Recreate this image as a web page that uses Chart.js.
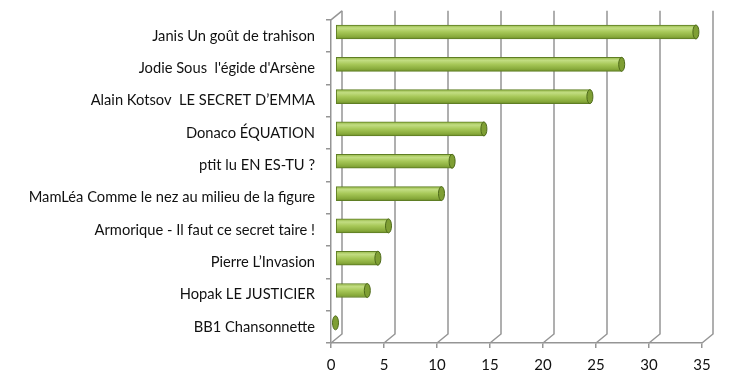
<!DOCTYPE html>
<html>
<head>
<meta charset="utf-8">
<script src="https://cdn.jsdelivr.net/npm/chart.js@4/dist/chart.umd.min.js"></script>
<style>
html,body{margin:0;padding:0;background:#fff;}
canvas{display:block;}
</style>
</head>
<body>
<canvas id="c" width="730" height="380"></canvas>
<script>
const categories = [
  "Janis Un goût de trahison",
  "Jodie Sous  l'égide d'Arsène",
  "Alain Kotsov  LE SECRET D’EMMA",
  "Donaco ÉQUATION",
  "ptit lu EN ES-TU ?",
  "MamLéa Comme le nez au milieu de la figure",
  "Armorique - Il faut ce secret taire !",
  "Pierre L’Invasion",
  "Hopak LE JUSTICIER",
  "BB1 Chansonnette"
];
const votes = [34, 27, 24, 14, 11, 10, 5, 4, 3, 0];
const xTicks = [0, 5, 10, 15, 20, 25, 30, 35];

const DEPTH_X = 11, DEPTH_Y = -9;   // back wall offset
const BAR_X = 4.5, BAR_Y = -4;      // bars sit at mid depth
const BAR_T = 14;
const GRID = '#959595';

Chart.defaults.font.family = 'Lato, "Open Sans", sans-serif';
Chart.defaults.font.size = 14;
Chart.defaults.color = '#111111';

function barFill(ctx) {
  const chart = ctx.chart;
  const ys = chart.scales && chart.scales.y;
  if (!ys || ctx.dataIndex === undefined) return '#a5c655';
  const yc = ys.getPixelForValue(ctx.dataIndex);
  if (!isFinite(yc)) return '#a5c655';
  const g = chart.ctx.createLinearGradient(0, yc - BAR_T / 2, 0, yc + BAR_T / 2);
  g.addColorStop(0, '#94b746');
  g.addColorStop(0.22, '#c2dd82');
  g.addColorStop(0.5, '#a7c858');
  g.addColorStop(0.85, '#87a93a');
  g.addColorStop(1, '#6c8b29');
  return g;
}

const wallPlugin = {
  id: 'wall3d',
  beforeDatasetsDraw(chart) {
    const c = chart.ctx, xs = chart.scales.x, a = chart.chartArea;
    c.save();
    c.strokeStyle = GRID;
    c.lineWidth = 1.5;
    xTicks.forEach(v => {
      const xf = xs.getPixelForValue(v);
      c.beginPath();
      c.moveTo(xf, a.bottom);
      c.lineTo(xf + DEPTH_X, a.bottom + DEPTH_Y);
      c.lineTo(xf + DEPTH_X, a.top + DEPTH_Y);
      c.stroke();
    });
    const x0 = xs.getPixelForValue(0);
    c.beginPath();
    c.moveTo(x0, a.top);
    c.lineTo(x0 + DEPTH_X, a.top + DEPTH_Y);
    c.stroke();
    c.restore();
    c.save();
    c.translate(BAR_X, BAR_Y);
  },
  afterDatasetsDraw(chart) {
    const c = chart.ctx;
    const meta = chart.getDatasetMeta(0);
    meta.data.forEach(el => {
      c.beginPath();
      c.ellipse(el.x, el.y, 3, BAR_T / 2, 0, 0, Math.PI * 2);
      c.fillStyle = '#7f9f34';
      c.fill();
      c.lineWidth = 1;
      c.strokeStyle = '#4e6a1a';
      c.stroke();
    });
    c.restore();
  }
};

new Chart(document.getElementById('c'), {
  type: 'bar',
  data: {
    labels: categories,
    datasets: [{
      data: votes,
      backgroundColor: barFill,
      borderColor: '#5f7e24',
      borderWidth: 1,
      barThickness: BAR_T,
      borderSkipped: false
    }]
  },
  options: {
    indexAxis: 'y',
    responsive: false,
    animation: false,
    layout: { padding: { left: 0, right: 28, top: 17, bottom: 0 } },
    plugins: { legend: { display: false }, tooltip: { enabled: false } },
    scales: {
      x: {
        min: 0, max: 35,
        afterBuildTicks(s) { s.ticks = xTicks.map(v => ({ value: v })); },
        afterFit(s) { s.height = 37; },
        grid: { drawOnChartArea: false, drawTicks: true, tickLength: 5, color: GRID, lineWidth: 1.5 },
        border: { display: true, color: GRID, width: 1.5 },
        ticks: { padding: 8, font: { size: 15 }, maxRotation: 0 }
      },
      y: {
        afterFit(s) { s.width = 331; },
        grid: { drawOnChartArea: false, drawTicks: true, tickLength: 5, color: GRID, lineWidth: 1.5, offset: true },
        border: { display: true, color: GRID, width: 1.5 },
        ticks: { padding: 11, font: { size: 14.7 }, autoSkip: false }
      }
    }
  },
  plugins: [wallPlugin]
});
</script>
</body>
</html>
